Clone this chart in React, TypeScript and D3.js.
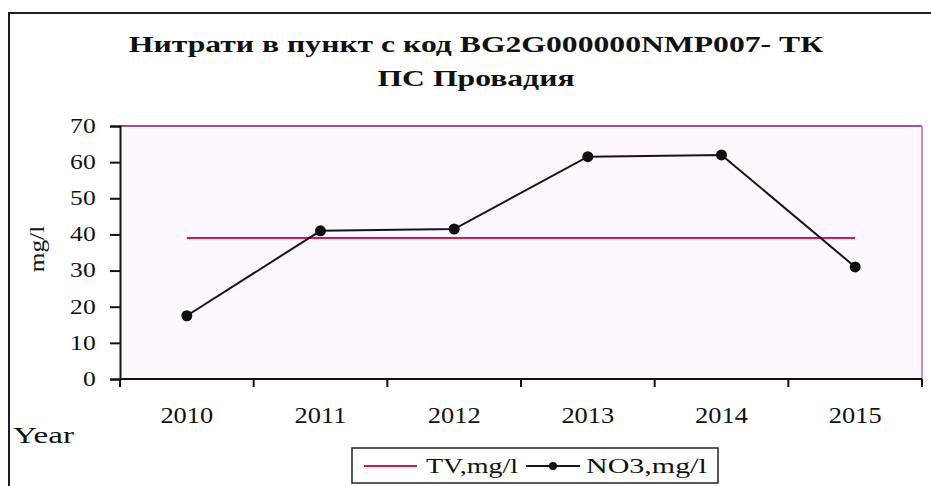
import React, { useEffect, useRef } from 'react';
import * as d3 from 'd3';

const years = ['2010', '2011', '2012', '2013', '2014', '2015'];
const no3Values = [17.5, 41, 41.5, 61.5, 62, 31];
const tvValues = [39, 39, 39, 39, 39, 39];
const yTicks = [0, 10, 20, 30, 40, 50, 60, 70];

const serif = '"Liberation Serif", "Times New Roman", serif';
const SX = 1.28; // the scanned chart is stretched sideways

function App() {
    const svgRef = useRef<SVGSVGElement>(null);

    useEffect(() => {
        const svg = d3.select(svgRef.current);
        svg.selectAll('*').remove();

        const W = 931, H = 486;
        const plot = { left: 120, right: 922, top: 126, bottom: 379 };

        // text with horizontal stretch
        const label = (x: number, y: number, s: string, size: number, anchor = 'start', bold = false, sx = SX) =>
            svg.append('text')
                .attr('transform', `translate(${x},${y}) scale(${sx},1)`)
                .attr('text-anchor', anchor)
                .style('font-family', serif)
                .style('font-size', `${size}px`)
                .style('font-weight', bold ? 'bold' : 'normal')
                .attr('fill', '#111')
                .text(s);

        // outer chart frame
        svg.append('rect')
            .attr('x', 9).attr('y', 13)
            .attr('width', W + 20).attr('height', H + 20)
            .attr('fill', 'white')
            .attr('stroke', '#1a1a40').attr('stroke-width', 2);

        // title
        label(476, 52, 'Нитрати в пункт с код BG2G000000NMP007- ТК', 24, 'middle', true, 1.32);
        label(476, 86, 'ПС Провадия', 24, 'middle', true, 1.32);

        const x = d3.scaleBand()
            .domain(years)
            .range([plot.left, plot.right]);

        const y = d3.scaleLinear()
            .domain([0, 70])
            .range([plot.bottom, plot.top]);

        // plot background
        svg.append('rect')
            .attr('x', plot.left).attr('y', plot.top)
            .attr('width', plot.right - plot.left)
            .attr('height', plot.bottom - plot.top)
            .attr('fill', '#fef7fd')
            .attr('stroke', 'none');

        svg.append('line')
            .attr('x1', plot.left).attr('x2', plot.right)
            .attr('y1', plot.top).attr('y2', plot.top)
            .attr('stroke', '#a04fa0').attr('stroke-width', 2);
        svg.append('line')
            .attr('x1', plot.right).attr('x2', plot.right)
            .attr('y1', plot.top).attr('y2', plot.bottom)
            .attr('stroke', '#c58ad8').attr('stroke-width', 2);

        // y axis
        const yAxis = svg.append('g')
            .attr('transform', `translate(${plot.left},0)`)
            .call(d3.axisLeft(y).tickValues(yTicks).tickSize(10).tickPadding(9));
        yAxis.select('.domain').attr('stroke', '#111').attr('stroke-width', 2);
        yAxis.selectAll('.tick line').attr('stroke', '#111').attr('stroke-width', 2);
        yAxis.selectAll('.tick text')
            .attr('transform', `scale(${SX},1)`)
            .style('font-family', serif)
            .style('font-size', '20px')
            .attr('fill', '#111');

        // x axis with ticks between categories
        svg.append('line')
            .attr('x1', plot.left).attr('x2', plot.right)
            .attr('y1', plot.bottom).attr('y2', plot.bottom)
            .attr('stroke', '#111').attr('stroke-width', 2);
        const boundaries = years.map(d => x(d)!).concat([plot.right]);
        svg.selectAll('.xtick')
            .data(boundaries)
            .enter()
            .append('line')
            .attr('x1', d => d).attr('x2', d => d)
            .attr('y1', plot.bottom).attr('y2', plot.bottom + 8)
            .attr('stroke', '#111').attr('stroke-width', 2);

        const cx = (d: string) => x(d)! + x.bandwidth() / 2;
        years.forEach(d => label(cx(d), 423, d, 23, 'middle', false, 1.15));

        // axis titles
        svg.append('text')
            .attr('transform', 'translate(44,249) rotate(-90) scale(1.15,1)')
            .attr('text-anchor', 'middle')
            .style('font-family', serif)
            .style('font-size', '22px')
            .attr('fill', '#111')
            .text('mg/l');
        label(13, 443, 'Year', 24, 'start', false, 1.38);

        // TV line
        const tvLine = d3.line<number>()
            .x((_, i) => cx(years[i]))
            .y(d => y(d));
        svg.append('path')
            .datum(tvValues)
            .attr('d', tvLine)
            .attr('fill', 'none')
            .attr('stroke', '#e0105a')
            .attr('stroke-width', 2);

        // NO3 line
        const no3Line = d3.line<number>()
            .x((_, i) => cx(years[i]))
            .y(d => y(d));
        svg.append('path')
            .datum(no3Values)
            .attr('d', no3Line)
            .attr('fill', 'none')
            .attr('stroke', '#141428')
            .attr('stroke-width', 2);
        svg.selectAll('.pt')
            .data(no3Values)
            .enter()
            .append('circle')
            .attr('cx', (_, i) => cx(years[i]))
            .attr('cy', d => y(d))
            .attr('r', 5.5)
            .attr('fill', '#111');

        // legend
        svg.append('rect')
            .attr('x', 352).attr('y', 448)
            .attr('width', 366).attr('height', 35)
            .attr('fill', 'white')
            .attr('stroke', '#222').attr('stroke-width', 1.5);
        svg.append('line')
            .attr('x1', 364).attr('x2', 417)
            .attr('y1', 466).attr('y2', 466)
            .attr('stroke', '#e0105a').attr('stroke-width', 2);
        label(426, 473, 'TV,mg/l', 20, 'start', false, 1.4);
        svg.append('line')
            .attr('x1', 526).attr('x2', 580)
            .attr('y1', 466).attr('y2', 466)
            .attr('stroke', '#141428').attr('stroke-width', 2);
        svg.append('circle')
            .attr('cx', 553).attr('cy', 466).attr('r', 4)
            .attr('fill', '#111');
        label(586, 473, 'NO3,mg/l', 20, 'start', false, 1.5);
    }, []);

    return (
        <svg
            ref={svgRef}
            width={931}
            height={486}
            style={{ position: 'absolute', left: 0, top: 0, background: 'white' }}
        />
    );
}

export default App;
